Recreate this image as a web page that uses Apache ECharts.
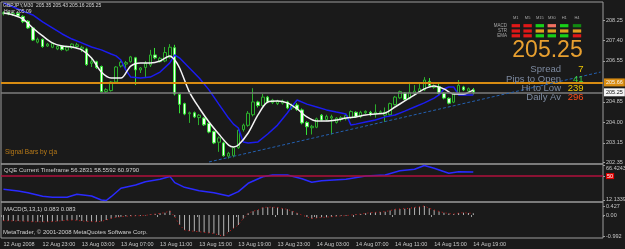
<!DOCTYPE html>
<html>
<head>
<meta charset="utf-8">
<script src="https://cdn.jsdelivr.net/npm/echarts@6/dist/echarts.min.js"></script>
<style>
html,body{margin:0;padding:0;background:#1a1a1a;}
#chart{width:625px;height:249px;}
</style>
</head>
<body>
<div id="chart"></div>
<script>
// GBPJPY M30, one bar per 30 minutes, first bar 12 Aug 19:00
// [open, close, low, high]
var ohlc = [
    [208.50, 208.56, 208.44, 208.62], [208.56, 208.50, 208.45, 208.60], [208.50, 208.53, 208.42, 208.58],
    [208.52, 208.42, 208.38, 208.56], [208.40, 208.18, 208.12, 208.45], [208.20, 207.92, 207.88, 208.25],
    [207.92, 207.42, 207.38, 207.96], [207.33, 207.45, 207.28, 207.52], [207.45, 207.15, 207.10, 207.48],
    [207.17, 207.25, 207.13, 207.30], [207.12, 207.28, 207.08, 207.32], [207.05, 207.15, 207.00, 207.20],
    [207.17, 207.03, 206.98, 207.20], [207.00, 207.12, 206.95, 207.18], [207.10, 207.25, 207.05, 207.28],
    [207.15, 207.22, 207.08, 207.30], [207.05, 207.12, 206.92, 207.18], [207.05, 206.40, 206.35, 207.10],
    [206.45, 206.52, 206.30, 206.70], [206.52, 206.28, 206.22, 206.56], [206.32, 205.28, 205.24, 206.36],
    [205.28, 205.36, 205.22, 205.42], [205.32, 205.68, 205.28, 205.72], [205.68, 206.30, 205.62, 206.34],
    [206.34, 206.50, 206.28, 206.56], [206.42, 206.48, 206.24, 206.55], [206.52, 206.72, 206.48, 206.76],
    [206.68, 206.18, 205.55, 206.72], [206.18, 206.26, 206.05, 206.30], [206.28, 206.45, 205.85, 206.55],
    [206.38, 206.80, 206.30, 207.01], [206.80, 206.68, 206.62, 207.09], [206.52, 206.66, 206.48, 206.72],
    [206.55, 206.90, 206.50, 207.13], [206.70, 207.12, 206.65, 207.25], [207.10, 205.18, 205.12, 207.22],
    [205.16, 204.75, 204.38, 205.20], [204.78, 204.35, 204.30, 204.82], [204.36, 204.40, 203.98, 204.45],
    [204.40, 204.23, 204.18, 204.45], [204.20, 204.30, 203.89, 204.35], [204.18, 203.90, 203.85, 204.22],
    [203.96, 203.60, 203.55, 204.00], [203.62, 203.15, 203.10, 203.66], [203.18, 203.36, 202.78, 203.42],
    [203.15, 202.62, 202.58, 203.20], [202.60, 202.72, 202.50, 202.78], [202.62, 202.95, 202.55, 203.00],
    [202.95, 203.68, 202.90, 203.72], [203.70, 203.89, 203.62, 203.95], [203.88, 204.38, 203.82, 204.47],
    [204.32, 204.85, 204.25, 205.42], [204.85, 204.70, 204.62, 204.90], [204.70, 205.05, 204.66, 205.18],
    [205.05, 204.85, 204.80, 205.10], [204.82, 204.93, 204.76, 204.98], [204.78, 204.88, 204.72, 204.94],
    [204.80, 204.89, 204.74, 204.95], [204.85, 204.60, 204.55, 204.90], [204.60, 204.70, 204.52, 204.78],
    [204.72, 204.55, 204.48, 204.80], [204.52, 203.98, 203.92, 204.58], [204.00, 203.82, 203.48, 204.05],
    [203.78, 203.84, 203.50, 203.90], [203.80, 204.15, 203.76, 204.20], [204.30, 204.10, 204.05, 204.35],
    [204.12, 204.25, 204.05, 204.32], [204.18, 204.24, 203.50, 204.32], [204.00, 204.18, 203.95, 204.22],
    [204.12, 204.20, 204.04, 204.26], [204.15, 204.28, 204.08, 204.34], [204.20, 204.45, 204.15, 204.50],
    [204.42, 204.24, 204.20, 204.46], [204.24, 204.42, 204.18, 204.48], [204.40, 204.46, 204.35, 204.50],
    [204.42, 204.32, 204.26, 204.48], [204.35, 204.42, 204.20, 204.75], [204.40, 204.44, 204.35, 204.50],
    [204.30, 204.42, 204.02, 204.62], [204.32, 204.78, 204.28, 204.82], [204.74, 205.05, 204.70, 205.10],
    [205.02, 205.28, 204.98, 205.32], [205.22, 204.95, 204.90, 205.26], [205.00, 205.25, 204.95, 205.68],
    [205.20, 205.30, 205.10, 205.55], [205.28, 205.40, 205.24, 205.62], [205.35, 205.76, 205.30, 205.88],
    [205.70, 205.52, 205.48, 205.84], [205.45, 205.52, 205.40, 205.58], [205.48, 205.20, 205.15, 205.60],
    [205.22, 205.01, 204.96, 205.26], [205.00, 204.80, 204.75, 205.04], [204.84, 205.22, 204.80, 205.26],
    [205.20, 205.54, 205.15, 205.76], [205.47, 205.35, 205.30, 205.52], [205.30, 205.40, 205.26, 205.45],
    [205.35, 205.25, 205.16, 205.43]
];

// white moving average, [bar, price]
var fastMa = [
    [0, 208.54], [2, 208.46], [4, 208.29], [6, 207.92], [8, 207.59], [10, 207.30], [12, 207.17],
    [14, 207.13], [16, 207.01], [18, 206.67], [20, 206.09], [22, 205.84], [24, 205.84], [26, 206.34],
    [28, 206.47], [30, 206.47], [32, 206.55], [34, 206.76], [35, 206.59], [36, 206.26], [38, 205.26],
    [40, 204.60], [42, 204.02], [44, 203.52], [46, 203.06], [47, 202.98], [48, 203.06], [50, 203.56],
    [52, 204.31], [54, 204.85], [56, 204.89], [58, 204.81], [60, 204.56], [62, 204.23], [64, 204.06],
    [66, 204.06], [68, 204.10], [70, 204.18], [72, 204.23], [74, 204.31], [76, 204.35], [78, 204.39],
    [80, 204.64], [82, 204.89], [84, 205.14], [86, 205.39], [88, 205.51], [90, 205.39], [92, 205.18],
    [94, 205.18], [96, 205.35]
];

// blue line, [bar, price]
var slowLine = [
    [0, 208.96], [2, 208.79], [4, 208.62], [6, 208.46], [8, 208.17], [10, 207.92], [12, 207.67],
    [14, 207.46], [16, 207.30], [18, 207.13], [20, 207.01], [22, 206.84], [23, 206.76], [24, 206.59],
    [25, 206.18], [26, 205.88], [28, 205.84], [30, 205.88], [32, 206.09], [34, 206.47], [35, 206.80],
    [36, 206.67], [38, 206.26], [40, 205.84], [42, 205.35], [44, 204.76], [46, 204.18], [47, 203.93],
    [48, 203.77], [49, 203.19], [50, 203.15], [52, 203.19], [54, 203.52], [56, 203.89], [58, 204.39],
    [59, 204.68], [60, 204.93], [62, 204.76], [64, 204.64], [66, 204.52], [68, 204.43], [70, 204.35],
    [71, 203.89], [72, 203.93], [74, 204.02], [76, 204.10], [78, 204.23], [80, 204.31], [82, 204.47],
    [84, 204.64], [86, 204.81], [88, 205.01], [89, 205.14], [90, 205.39], [91, 205.47], [92, 205.47],
    [93, 205.14], [94, 205.14], [96, 205.14]
];

// QQE, [bar, value]
var qqe = [
    [0, 29.5], [3, 26.9], [5, 24.2], [8, 18.6], [10, 17.1], [13, 17.1], [15, 21.8], [18, 19.1],
    [20, 12.9], [21, 12.13], [22, 18.0], [24, 31.1], [27, 36.2], [29, 41.3], [32, 45.0], [34, 49.5],
    [35, 39.8], [37, 32.6], [40, 27.3], [43, 24.2], [46, 19.1], [48, 25.8], [50, 38.8], [53, 49.0],
    [55, 51.7], [58, 51.7], [61, 45.8], [63, 40.4], [65, 42.8], [70, 45.0], [74, 50.1], [78, 51.7],
    [81, 58.4], [84, 60.5], [86, 66.42], [88, 62.1], [91, 54.3], [93, 56.8], [96, 56.28]
];

// MACD(5,13,1) histogram, one value per bar
var macd = [
    -0.27, -0.27, -0.28, -0.28, -0.29, -0.30, -0.32, -0.32, -0.32, -0.32,
    -0.31, -0.29, -0.27, -0.25, -0.24, -0.25, -0.28, -0.30, -0.31, -0.32,
    -0.30, -0.24, -0.16, -0.11, -0.08, -0.06, -0.05, -0.04, -0.03, -0.02,
    0.02, 0.05, 0.08, 0.11, 0.20, -0.08, -0.47, -0.71, -0.75, -0.77,
    -0.79, -0.82, -0.85, -0.87, -0.95, -0.992, -0.80, -0.63, -0.47, -0.16,
    0.08, 0.18, 0.24, 0.36, 0.37, 0.37, 0.36, 0.31, 0.27, 0.18,
    0.09, 0.00, -0.09, -0.16, -0.14, -0.11, -0.10, -0.08, -0.06, -0.04,
    -0.03, 0.00, 0.02, 0.05, 0.08, 0.11, 0.13, 0.14, 0.16, 0.21,
    0.27, 0.29, 0.30, 0.32, 0.36, 0.39, 0.427, 0.32, 0.24, 0.17,
    0.11, 0.07, 0.05, 0.09, 0.11, 0.09, 0.083
];

var timeLabels = ['12 Aug 2008', '12 Aug 23:00', '13 Aug 03:00', '13 Aug 07:00', '13 Aug 11:00',
    '13 Aug 15:00', '13 Aug 19:00', '13 Aug 23:00', '14 Aug 03:00', '14 Aug 07:00',
    '14 Aug 11:00', '14 Aug 15:00', '14 Aug 19:00'];
var priceTicks = [208.25, 207.40, 206.55, 204.85, 204.00, 203.15, 202.35];
var qqeTicks = [66.4243, 50, 12.1339];
var macdTicks = [0.427, 0, -0.992];

var openLine = 205.66;
var bidLine = 205.25;
var trendLine = [[41.8, 202.36], [122.3, 206.09]];

var tfNames = ['M1', 'M5', 'M15', 'M30', 'H1', 'H4'];
var rowNames = ['MACD', 'STR', 'EMA'];
var signals = [
    ['#e01818', '#e01818', '#18d018', '#f07060', '#18d018', '#118a11'],
    ['#e01818', '#e01818', '#e0a020', '#e0a020', '#e0a020', '#e0a020'],
    ['#e01818', '#e01818', '#18d018', '#18d018', '#18d018', '#e01818']
];
var infoNames = ['Spread', 'Pips to Open', 'Hi to Low', 'Daily Av'];
var infoValues = ['7', '41', '239', '296'];
var infoColors = ['#f0c800', '#3cd23c', '#f0c800', '#ff4a1a'];

var barSlots = 123;
var categories = [];
for (var i = 0; i < barSlots; i++) categories.push(String(i));

var chart = echarts.init(document.getElementById('chart'));
var axisFont = {color: '#c8c8c8', fontSize: 5.5, fontFamily: 'Liberation Sans'};
var gridBox = {show: true, left: 1, width: 602, borderColor: '#9c9c9c', borderWidth: 1, backgroundColor: 'transparent', outerBoundsMode: 'none'};

function xAx(idx, showLabels) {
    return {
        type: 'category', gridIndex: idx, data: categories, boundaryGap: true,
        axisLine: {show: false}, splitLine: {show: false},
        axisTick: showLabels ? {show: true, length: 2, lineStyle: {color: '#9c9c9c'},
            interval: function (n) { return n % 8 === 0 && n / 8 < timeLabels.length; }} : {show: false},
        axisLabel: showLabels ? Object.assign({
            show: true, align: 'left', margin: 3,
            interval: function (n) { return n % 8 === 0 && n / 8 < timeLabels.length; },
            formatter: function (v) { return timeLabels[Number(v) / 8]; }
        }, axisFont) : {show: false}
    };
}

function yAx(idx, min, max, ticks, fmt, rich) {
    return {
        type: 'value', gridIndex: idx, position: 'right', min: min, max: max, scale: true,
        splitLine: {show: false}, axisLine: {show: false},
        axisTick: {show: true, length: 2, customValues: ticks, lineStyle: {color: '#9c9c9c'}},
        axisLabel: Object.assign({show: true, margin: 3, customValues: ticks, formatter: fmt, rich: rich || {}}, axisFont)
    };
}

var graphics = [];
function txt(x, y, s, size, color, align, family) {
    graphics.push({type: 'text', left: null, x: x, y: y, silent: true, z: 100,
        style: {text: s, fontSize: size, fill: color, align: align || 'left', verticalAlign: 'middle',
            fontFamily: family || 'Liberation Sans'}});
}
txt(3, 6, 'GBPJPY,M30  205.35 205.43 205.16 205.25', 5, '#d8d8d8');
txt(4, 12, 'Hour 205.09', 5, '#d8d8d8');
txt(5, 152.5, 'Signal Bars by cja', 6.5, '#b87a18');
txt(4, 170, 'QQE Current Timeframe 56.2831 58.5592 60.9790', 6, '#d0d0d0');
txt(4, 209, 'MACD(5,13,1) 0.083 0.083', 6, '#d0d0d0');
txt(3, 232.5, 'MetaTrader, \u00a9 2001-2008 MetaQuotes Software Corp.', 6, '#d0d0d0');

var colX = [515.8, 527.6, 539.8, 551.8, 564.2, 577];
var rowY = [25.7, 31, 35.8];
tfNames.forEach(function (n, c) { txt(colX[c], 18.3, n, 4, '#a8a8a8', 'center'); });
rowNames.forEach(function (n, r) {
    txt(507, rowY[r], n, 4.5, '#a8a8a8', 'right');
    signals[r].forEach(function (col, c) {
        graphics.push({type: 'rect', silent: true, z: 100,
            shape: {x: colX[c] - 4.2, y: rowY[r] - 1.6, width: 8.4, height: 3.2},
            style: {fill: col}});
    });
});
txt(547.5, 50.5, '205.25', 23, '#e8a030', 'center');
var infoY = [69, 79, 88.3, 97.6];
infoNames.forEach(function (n, r) {
    txt(561, infoY[r], n, 9.5, '#7d8aa0', 'right');
    txt(583.5, infoY[r], infoValues[r], 9.5, infoColors[r], 'right');
});

var option = {
    backgroundColor: '#1a1a1a',
    animation: false,
    grid: [
        Object.assign({top: 2, height: 162}, gridBox),
        Object.assign({top: 164, height: 38}, gridBox),
        Object.assign({top: 202, height: 36}, gridBox)
    ],
    xAxis: [xAx(0, false), xAx(1, false), xAx(2, true)],
    yAxis: [
        yAx(0, 202.275, 208.997, priceTicks, function (v) { return v.toFixed(2); }),
        yAx(1, 9.8, 68.75, qqeTicks, function (v) {
            if (v === 50) return '{red|50}';
            if (v > 60) return '{hi|66.4243}';
            return '{lo|12.1339}';
        }, {
            red: {backgroundColor: '#e00000', color: '#ffffff', fontSize: 5.5, padding: [0, 1]},
            hi: {fontSize: 5.5, color: '#c8c8c8', padding: [5, 0, 0, 0]},
            lo: {fontSize: 5.5, color: '#c8c8c8', padding: [0, 0, 3, 0]}
        }),
        yAx(2, -1.087, 0.616, macdTicks, function (v) {
            return v === 0 ? '0.00' : String(v);
        })
    ],
    graphic: graphics,
    series: [
        {
            type: 'candlestick', xAxisIndex: 0, yAxisIndex: 0, data: ohlc, barWidth: 3,
            itemStyle: {color: '#1a1a1a', color0: '#f2fff2', borderColor: '#2cb02c', borderColor0: '#36e436', borderWidth: 1}
        },
        {
            type: 'line', xAxisIndex: 0, yAxisIndex: 0, data: slowLine, showSymbol: false,
            lineStyle: {color: '#1c1cf0', width: 1.5}, z: 3
        },
        {
            type: 'line', xAxisIndex: 0, yAxisIndex: 0, data: fastMa, showSymbol: false, smooth: 0.3,
            lineStyle: {color: '#f4f4f4', width: 1.5}, z: 4,
            markLine: {
                silent: true, symbol: ['none', 'none'], animation: false,
                data: [
                    {yAxis: openLine, lineStyle: {color: '#d88c12', width: 2, type: 'solid'},
                        label: {position: 'end', distance: 1, formatter: openLine.toFixed(2), backgroundColor: '#d88c12',
                            color: '#f4f4f4', fontSize: 5.5, padding: [1, 2], fontFamily: 'Liberation Sans'}},
                    {yAxis: bidLine, lineStyle: {color: '#7c7c7c', width: 1.5, type: 'solid'},
                        label: {position: 'end', distance: 1, formatter: bidLine.toFixed(2), backgroundColor: '#f4f4f4',
                            color: '#111111', fontSize: 5.5, padding: [1, 2], fontFamily: 'Liberation Sans'}},
                    [{coord: trendLine[0], lineStyle: {color: '#2460b0', width: 1, type: [3, 2]}, label: {show: false}},
                        {coord: trendLine[1]}]
                ]
            }
        },
        {
            type: 'line', xAxisIndex: 1, yAxisIndex: 1, data: qqe, showSymbol: false,
            lineStyle: {color: '#2a2aff', width: 1.5},
            markLine: {
                silent: true, symbol: ['none', 'none'], animation: false,
                data: [{yAxis: 50, lineStyle: {color: '#b0103c', width: 1.5, type: 'solid'}, label: {show: false}}]
            }
        },
        {
            type: 'bar', xAxisIndex: 2, yAxisIndex: 2, data: macd, barWidth: 1,
            itemStyle: {color: '#b4b4b4'}
        },
        {
            type: 'line', xAxisIndex: 2, yAxisIndex: 2, data: macd, showSymbol: false,
            lineStyle: {color: '#d01818', width: 1, type: [1, 3]}, z: 5
        }
    ]
};
chart.setOption(option);
</script>
</body>
</html>
